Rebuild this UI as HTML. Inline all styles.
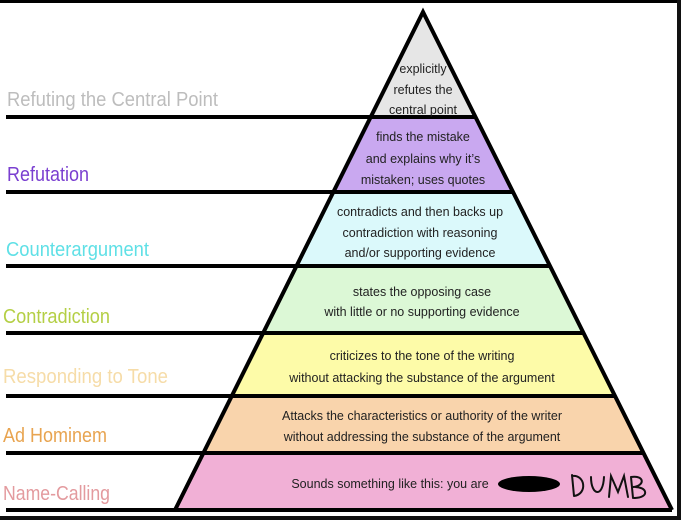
<!DOCTYPE html>
<html><head><meta charset="utf-8"><style>
html,body{margin:0;padding:0;background:#fff;}
svg{display:block;}
.l{font-family:"Liberation Sans",sans-serif;font-size:20px;}
.t{font-family:"Liberation Sans",sans-serif;font-size:12.5px;fill:#222;text-anchor:middle;}
</style></head><body>
<svg width="681" height="520" viewBox="0 0 681 520" xmlns="http://www.w3.org/2000/svg">
<rect x="0" y="0" width="681" height="520" fill="#fff"/>
<!-- frame -->
<rect x="0" y="0" width="681" height="3" fill="#000"/>
<rect x="677" y="0" width="4" height="520" fill="#111"/>
<rect x="0" y="516" width="681" height="4" fill="#111"/>
<!-- bands -->
<polygon points="423,12 475.5,117 370.7,117" fill="#e6e6e6"/>
<polygon points="370.7,117 475.5,117 513,192 333.4,192" fill="#c9a8f0"/>
<polygon points="333.4,192 513,192 550,266 296.5,266" fill="#dbf9fb"/>
<polygon points="296.5,266 550,266 583.5,333 263.1,333" fill="#dcf8d6"/>
<polygon points="263.1,333 583.5,333 615,396 231.8,396" fill="#fdfba8"/>
<polygon points="231.8,396 615,396 643.5,453 203.4,453" fill="#f9d4ac"/>
<polygon points="203.4,453 643.5,453 672,510 175,510" fill="#f1b0d6"/>
<!-- lines -->
<g stroke="#000" stroke-width="4">
<line x1="6" y1="117" x2="475.5" y2="117"/>
<line x1="6" y1="192" x2="513" y2="192"/>
<line x1="6" y1="266" x2="550" y2="266"/>
<line x1="6" y1="333" x2="583.5" y2="333"/>
<line x1="6" y1="396" x2="615" y2="396"/>
<line x1="6" y1="453" x2="643.5" y2="453"/>
<line x1="6" y1="510" x2="672" y2="510"/>
<polyline points="175,510 423,12 672,510" fill="none"/>
</g>
<!-- labels -->
<text class="l" x="7" y="106" fill="#bdbdbd" textLength="211" lengthAdjust="spacingAndGlyphs">Refuting the Central Point</text>
<text class="l" x="7" y="181" fill="#7a3fd0" textLength="82" lengthAdjust="spacingAndGlyphs">Refutation</text>
<text class="l" x="6" y="256" fill="#5fe0e6" textLength="143" lengthAdjust="spacingAndGlyphs">Counterargument</text>
<text class="l" x="3" y="323" fill="#b4cf45" textLength="107" lengthAdjust="spacingAndGlyphs">Contradiction</text>
<text class="l" x="3" y="383" fill="#f6dca8" textLength="165" lengthAdjust="spacingAndGlyphs">Responding to Tone</text>
<text class="l" x="3" y="442" fill="#e8a450" textLength="104" lengthAdjust="spacingAndGlyphs">Ad Hominem</text>
<text class="l" x="3" y="500" fill="#e39a9e" textLength="107" lengthAdjust="spacingAndGlyphs">Name-Calling</text>
<!-- band text -->
<text class="t" x="423" y="73">explicitly</text>
<text class="t" x="423" y="94">refutes the</text>
<text class="t" x="423" y="114">central point</text>
<text class="t" x="423" y="141">finds the mistake</text>
<text class="t" x="423" y="163">and explains why it’s</text>
<text class="t" x="423" y="184">mistaken; uses quotes</text>
<text class="t" x="420" y="216">contradicts and then backs up</text>
<text class="t" x="420" y="237">contradiction with reasoning</text>
<text class="t" x="420" y="257">and/or supporting evidence</text>
<text class="t" x="422" y="296">states the opposing case</text>
<text class="t" x="422" y="316">with little or no supporting evidence</text>
<text class="t" x="422" y="360">criticizes to the tone of the writing</text>
<text class="t" x="422" y="382">without attacking the substance of the argument</text>
<text class="t" x="422" y="420">Attacks the  characteristics or authority of the writer</text>
<text class="t" x="422" y="441">without addressing the substance of the argument</text>
<text class="t" x="390" y="488">Sounds something like this: you are</text>
<ellipse cx="529" cy="484" rx="31" ry="8" fill="#000"/>
<g fill="none" stroke="#111" stroke-width="2" stroke-linecap="round">
<path d="M572,475 L574,496 M572,476 C585,474 588,494 574,496"/>
<path d="M591,477 C591,496 603,498 604,477"/>
<path d="M609,497 L611,476 L618,492 L624,476 L628,497"/>
<path d="M631,477 L633,498 M631,477 C645,475 645,486 633,487 C648,486 650,498 634,498"/>
</g>
</svg>
</body></html>
